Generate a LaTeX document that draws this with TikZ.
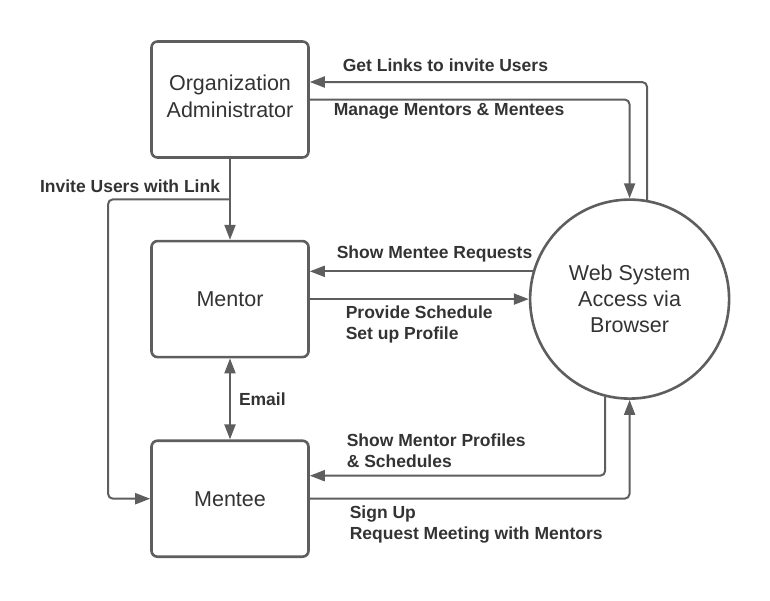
\documentclass[tikz,border=0pt]{standalone}
\usepackage{fontspec}
\setmainfont{Liberation Sans}
\usetikzlibrary{arrows.meta,positioning,calc}

\definecolor{linegray}{HTML}{5E5E5E}
\definecolor{textgray}{HTML}{333333}

\begin{document}
\begin{tikzpicture}[x=1pt, y=-1pt,
      mybox/.style={
         rectangle,
         rounded corners=6pt,
         draw=linegray,
         line width=2.6pt,
         text=textgray,
         align=center,
         minimum width=157pt,
         minimum height=116pt,
         font=\fontsize{21.5}{27}\selectfont},
      mycircle/.style={
         circle,
         draw=linegray,
         line width=2.6pt,
         text=textgray,
         align=center,
         inner sep=0pt,
         minimum size=199pt,
         font=\fontsize{21.5}{26}\selectfont},
      myarrow/.style={-{Triangle[length=15pt,width=11pt]}, draw=linegray, line width=2pt, rounded corners=5pt},
      myarrows/.style={{Triangle[length=15pt,width=11pt]}-{Triangle[length=15pt,width=11pt]}, draw=linegray, line width=2pt},
      mylabel/.style={text=textgray, font=\bfseries\fontsize{17.5}{21}\selectfont, inner sep=0pt, align=left},
      node distance=81pt and 219pt
      ]
      \useasboundingbox (0,0) rectangle (770,600);

      \node[mybox] (admin) at (230,99.5) {Organization\\Administrator\\[-21pt]};
      \node[mybox, below = of admin] (mentor) {Mentor};
      \node[mybox, below = of mentor] (mentee) {Mentee};
      \node[mycircle, right = of mentor] (web) {Web System\\Access via\\Browser};

%
\draw[myarrow] (web.80) |- node[mylabel, at end, anchor=west, xshift=32pt, yshift=17pt] {Get Links to invite Users} ($(admin.east)+(0,-17.5)$);
\draw[myarrow] (admin.east) -| node[mylabel, at start, anchor=west, xshift=23pt, yshift=-12pt] {Manage Mentors \& Mentees} (web.north);
%
\draw[myarrow] (admin.south) -- coordinate (split) (mentor.north);
\draw[myarrow] (split) -- node[mylabel, at start, anchor=east, xshift=-9pt, yshift=13pt] {Invite Users with Link} ++(-122,0) |- (mentee.west);
\draw[myarrows] (mentor.south) -- node[mylabel, right=8pt] {Email} (mentee.north);
%
\draw[myarrow] (web.164) -- node[mylabel, at end, anchor=west, xshift=26pt, yshift=17pt] {Show Mentee Requests} (web.164 -| mentor.east);
\draw[myarrow] (mentor.east) -- node[mylabel, at start, anchor=west, xshift=35pt, yshift=-25.5pt] {Provide Schedule\\Set up Profile} (web.west);
%
\draw[myarrow] (web.256) |- node[mylabel, at end, anchor=west, xshift=36pt, yshift=25pt] {Show Mentor Profiles\\\& Schedules} ($(mentee.east)+(0,-23)$);
\draw[myarrow] (mentee.east) -| node[mylabel, at start, anchor=west, xshift=39pt, yshift=-26pt] {Sign Up\\Request Meeting with Mentors} (web.south);

\end{tikzpicture}
\end{document}
